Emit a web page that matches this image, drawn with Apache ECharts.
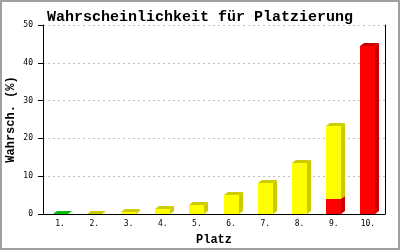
<!DOCTYPE html>
<html><head><meta charset="utf-8">
<script src="https://cdn.jsdelivr.net/npm/echarts@6/dist/echarts.min.js"></script>
<style>html,body{margin:0;padding:0;background:#fff}#c{width:400px;height:250px}</style>
</head><body><div id="c"></div>
<script>
const categories = ['1.','2.','3.','4.','5.','6.','7.','8.','9.','10.'];
const greenValues  = [0.1, 0, 0, 0, 0, 0, 0, 0, 0, 0];
const redValues    = [0, 0, 0, 0, 0, 0, 0, 0, 4.1, 44.5];
const yellowValues = [0, 0.1, 0.5, 1.2, 2.5, 5.0, 8.2, 13.6, 19.3, 0];
const yTicks = [0, 10, 20, 30, 40, 50];

const stackOrder = [
  {vals: greenValues, front: '#00e000', dark: '#00c000'},
  {vals: redValues, front: '#ff0000', dark: '#cc0000'},
  {vals: yellowValues, front: '#ffff00', dark: '#cccc00'}
];
const segData = [];
const base = categories.map(() => 0);
stackOrder.forEach((s, si) => {
  s.vals.forEach((v, i) => {
    if (v > 0) { segData.push([i, base[i], base[i] + v, si]); base[i] += v; }
  });
});

const DX = 4, DY = 3;
function renderItem(params, api) {
  const i = api.value(0), lo = api.value(1), hi = api.value(2), si = api.value(3);
  const c = stackOrder[si];
  const pb = api.coord([i, lo]), pt = api.coord([i, hi]);
  const w = api.size([1, 0])[0] * 0.44;
  const x0 = Math.round(pb[0] - w / 2), x1 = x0 + Math.round(w);
  const yb = Math.round(pb[1]), yt = Math.round(pt[1]);
  return {type: 'group', children: [
    {type: 'polygon', shape: {points: [[x1, yb], [x1 + DX, yb - DY], [x1 + DX, yt - DY], [x1, yt]]}, style: {fill: c.dark}},
    {type: 'polygon', shape: {points: [[x0, yt], [x1, yt], [x1 + DX, yt - DY], [x0 + DX, yt - DY]]}, style: {fill: c.dark}},
    {type: 'rect', shape: {x: x0, y: yt, width: x1 - x0, height: yb - yt}, style: {fill: c.front}}
  ]};
}

const chart = echarts.init(document.getElementById('c'), null, {renderer: 'canvas'});
chart.setOption({
  animation: false,
  backgroundColor: '#fff',
  title: {text: 'Wahrscheinlichkeit für Platzierung', left: 'center', top: 5,
    textStyle: {fontFamily: 'Liberation Mono', fontSize: 15, fontWeight: 'bold', color: '#000'}},
  grid: {left: 43, right: 15, top: 25, bottom: 36, containLabel: false, outerBoundsMode: 'none'},
  xAxis: {type: 'category', data: categories, name: 'Platz', nameLocation: 'middle', nameGap: 20,
    nameMoveOverlap: false,
    nameTextStyle: {fontFamily: 'Liberation Mono', fontSize: 12, fontWeight: 'bold', color: '#000'},
    axisLine: {lineStyle: {color: '#000', width: 1}}, axisTick: {show: false},
    axisLabel: {fontFamily: 'DejaVu Sans Mono', fontSize: 8, color: '#000', margin: 6}},
  yAxis: [{type: 'value', min: yTicks[0], max: yTicks[yTicks.length - 1], interval: 10,
    name: 'Wahrsch. (%)', nameLocation: 'middle', nameGap: 26, nameMoveOverlap: false,
    nameTextStyle: {fontFamily: 'Liberation Mono', fontSize: 12, fontWeight: 'bold', color: '#000'},
    axisLine: {show: true, lineStyle: {color: '#000'}}, axisTick: {show: true, length: 5, lineStyle: {color: '#000'}},
    axisLabel: {fontFamily: 'DejaVu Sans Mono', fontSize: 8, color: '#000', margin: 10},
    splitLine: {show: true, lineStyle: {color: '#c0c0c0', type: [2, 3]}}},
   {type: 'value', position: 'right', min: 0, max: 50, interval: 10,
    axisLine: {show: true, lineStyle: {color: '#000'}}, axisTick: {show: false}, axisLabel: {show: false}, splitLine: {show: false}}],
  series: [{type: 'custom', renderItem: renderItem, data: segData, encode: {x: 0, y: [1, 2]}, clip: false}],
  graphic: [{type: 'rect', shape: {x: 1, y: 1, width: 398, height: 248}, style: {fill: null, stroke: '#a0a0a0', lineWidth: 2}, silent: true}]
});
</script></body></html>
